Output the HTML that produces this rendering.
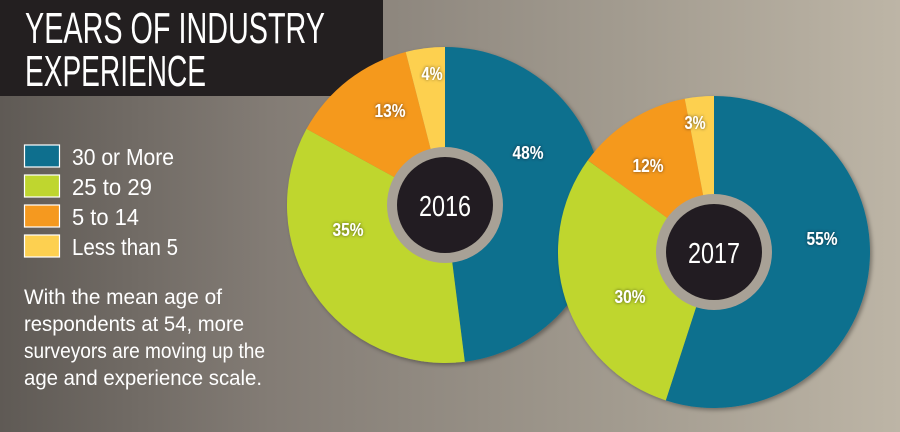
<!DOCTYPE html>
<html><head><meta charset="utf-8"><style>
body{margin:0;width:900px;height:432px;overflow:hidden;}
svg{display:block}
text{font-family:"Liberation Sans",sans-serif;}
</style></head><body>
<svg id="s" width="900" height="432" viewBox="0 0 900 432" xmlns="http://www.w3.org/2000/svg">
<defs>
<linearGradient id="bg" x1="0" y1="0" x2="1" y2="0">
<stop offset="0" stop-color="#5f5a55"/><stop offset="0.3" stop-color="#837c75"/><stop offset="0.7" stop-color="#a39c90"/><stop offset="1" stop-color="#bdb5a6"/>
</linearGradient>
<filter id="sh" x="-20%" y="-20%" width="140%" height="140%"><feDropShadow dx="2" dy="2" stdDeviation="2" flood-color="#000" flood-opacity="0.35"/></filter>
<filter id="ts"><feDropShadow dx="0" dy="0" stdDeviation="1.5" flood-color="#000" flood-opacity="0.6"/></filter>
</defs>
<rect width="900" height="432" fill="url(#bg)"/>
<rect x="0" y="0" width="383" height="96" fill="#231f20"/>
<text x="25" y="43" font-size="44" fill="#fff" textLength="300" lengthAdjust="spacingAndGlyphs">YEARS OF INDUSTRY</text>
<text x="25" y="86" font-size="44" fill="#fff" textLength="181" lengthAdjust="spacingAndGlyphs">EXPERIENCE</text>
<g stroke="#fff" stroke-width="1.2">
<rect x="24.5" y="145" width="35" height="22" fill="#0e6f8e"/>
<rect x="24.5" y="175" width="35" height="22" fill="#bfd62f"/>
<rect x="24.5" y="205" width="35" height="22" fill="#f5991f"/>
<rect x="24.5" y="235" width="35" height="22" fill="#fdd050"/>
</g>
<g font-size="23" fill="#fff">
<text x="72" y="165" textLength="102" lengthAdjust="spacingAndGlyphs">30 or More</text>
<text x="72" y="195" textLength="80" lengthAdjust="spacingAndGlyphs">25 to 29</text>
<text x="72" y="225" textLength="67" lengthAdjust="spacingAndGlyphs">5 to 14</text>
<text x="72" y="255" textLength="106" lengthAdjust="spacingAndGlyphs">Less than 5</text>
</g>
<g font-size="21" fill="#fff">
<text x="24" y="304" textLength="198" lengthAdjust="spacingAndGlyphs">With the mean age of</text>
<text x="24" y="331" textLength="220" lengthAdjust="spacingAndGlyphs">respondents at 54, more</text>
<text x="24" y="358" textLength="241" lengthAdjust="spacingAndGlyphs">surveyors are moving up the</text>
<text x="24" y="385" textLength="238" lengthAdjust="spacingAndGlyphs">age and experience scale.</text>
</g>
<g id="p1" filter="url(#sh)"></g>
<g id="p2" filter="url(#sh)"></g>
</svg>
<script>
var C=["#0e6f8e","#bfd62f","#f5991f","#fdd050"];
function pie(id,cx,cy,r,vals,yr,labs){
 var g=document.getElementById(id),a=0,h="";
 vals.forEach(function(v,i){
  var a1=a+v/100*2*Math.PI;
  var x0=cx+r*Math.sin(a),y0=cy-r*Math.cos(a),x1=cx+r*Math.sin(a1),y1=cy-r*Math.cos(a1);
  h+='<path d="M'+cx+','+cy+'L'+x0+','+y0+'A'+r+','+r+' 0 '+(a1-a>Math.PI?1:0)+' 1 '+x1+','+y1+'Z" fill="'+C[i]+'"/>';
  a=a1;});
 h+='<circle cx="'+cx+'" cy="'+cy+'" r="58" fill="#a8a196"/><circle cx="'+cx+'" cy="'+cy+'" r="48" fill="#231f20"/>';
 h+='<text x="'+(cx-26)+'" y="'+(cy+11)+'" font-size="29" fill="#fff" textLength="52" lengthAdjust="spacingAndGlyphs">'+yr+'</text>';
 labs.forEach(function(l){var w=l[0].length==3?31:21;h+='<text x="'+(l[1]-w/2)+'" y="'+l[2]+'" font-size="18" font-weight="bold" fill="#fff" textLength="'+w+'" lengthAdjust="spacingAndGlyphs" filter="url(#ts)">'+l[0]+'</text>';});
 g.innerHTML=h;}
pie("p1",445,205,158,[48,35,13,4],"2016",[["48%",528,159],["35%",348,236],["13%",390,117],["4%",432,80]]);
pie("p2",714,252,156,[55,30,12,3],"2017",[["55%",822,245],["30%",630,303],["12%",648,172],["3%",695,129]]);
</script>
</body></html>
